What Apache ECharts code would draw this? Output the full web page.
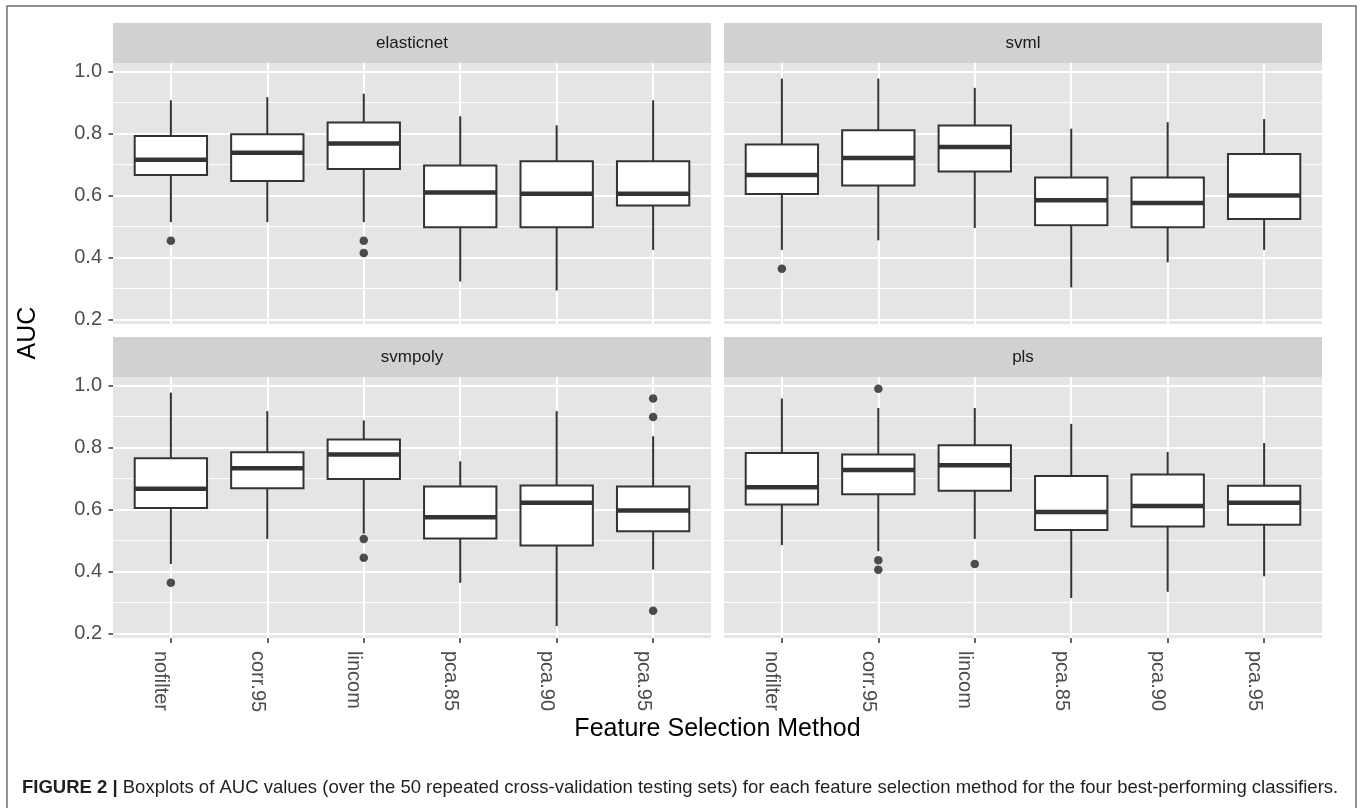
<!DOCTYPE html>
<html>
<head>
<meta charset="utf-8">
<title>AUC boxplots by feature selection method</title>
<script src="https://cdn.jsdelivr.net/npm/echarts@6/dist/echarts.min.js"></script>
<style>
  html, body { margin: 0; padding: 0; background: #ffffff; }
  #chart { width: 1363px; height: 808px; }
</style>
</head>
<body>
<div id="chart"></div>
<script>
// Feature selection methods (x categories) and classifiers (facets)
const methods = ['nofilter', 'corr.95', 'lincom', 'pca.85', 'pca.90', 'pca.95'];
const classifiers = ['elasticnet', 'svml', 'svmpoly', 'pls'];
const yTicks = [0.2, 0.4, 0.6, 0.8, 1.0];

// Box statistics per method: [lower whisker, Q1, median, Q3, upper whisker]
const elasticnetBoxes = [
  [0.514, 0.666, 0.716, 0.792, 0.908],
  [0.514, 0.647, 0.738, 0.798, 0.918],
  [0.514, 0.686, 0.768, 0.836, 0.929],
  [0.322, 0.497, 0.610, 0.697, 0.856],
  [0.293, 0.497, 0.606, 0.711, 0.827],
  [0.424, 0.568, 0.606, 0.711, 0.908]
];
const svmlBoxes = [
  [0.424, 0.605, 0.666, 0.765, 0.978],
  [0.455, 0.632, 0.721, 0.811, 0.978],
  [0.495, 0.678, 0.757, 0.826, 0.948],
  [0.303, 0.504, 0.585, 0.658, 0.816],
  [0.384, 0.497, 0.576, 0.658, 0.837],
  [0.424, 0.524, 0.600, 0.734, 0.847]
];
const svmpolyBoxes = [
  [0.424, 0.605, 0.667, 0.766, 0.978],
  [0.505, 0.669, 0.733, 0.785, 0.918],
  [0.522, 0.699, 0.778, 0.826, 0.888],
  [0.363, 0.506, 0.575, 0.674, 0.756],
  [0.223, 0.484, 0.622, 0.678, 0.918],
  [0.406, 0.530, 0.597, 0.674, 0.837]
];
const plsBoxes = [
  [0.485, 0.616, 0.672, 0.783, 0.959],
  [0.465, 0.649, 0.728, 0.778, 0.928],
  [0.505, 0.661, 0.743, 0.808, 0.928],
  [0.314, 0.534, 0.592, 0.708, 0.877],
  [0.334, 0.545, 0.611, 0.713, 0.786],
  [0.384, 0.551, 0.622, 0.677, 0.815]
];

// Outlying AUC values: [method index, AUC]
const elasticnetOutliers = [[0, 0.454], [2, 0.454], [2, 0.414]];
const svmlOutliers = [[0, 0.363]];
const svmpolyOutliers = [[0, 0.363], [2, 0.505], [2, 0.444], [5, 0.959], [5, 0.899], [5, 0.273]];
const plsOutliers = [[1, 0.990], [1, 0.436], [1, 0.405], [2, 0.424]];

const boxSets = [elasticnetBoxes, svmlBoxes, svmpolyBoxes, plsBoxes];
const outlierSets = [elasticnetOutliers, svmlOutliers, svmpolyOutliers, plsOutliers];

// Shared y scale: data range expanded by 5% on each side
const allValues = [];
boxSets.forEach(s => s.forEach(b => allValues.push(...b)));
outlierSets.forEach(s => s.forEach(o => allValues.push(o[1])));
const dataMin = Math.min(...allValues);
const dataMax = Math.max(...allValues);
const pad = (dataMax - dataMin) * 0.05;
const yMin = dataMin - pad;
const yMax = dataMax + pad;

// Facet layout (2 x 2)
const FONT = '"Liberation Sans", Arial, Helvetica, sans-serif';
const panelW = 598, panelH = 261, stripH = 40;
const panelLefts = [113, 724];
const panelTops = [63, 377];
const PANEL_BG = '#E5E5E5';
const STRIP_BG = '#D1D1D1';
const INK = '#333333';
const TICK_TEXT = '#4D4D4D';

// Caption face: a narrow sans if one is installed, otherwise the regular one
const captionText = 'Boxplots of AUC values (over the 50 repeated cross-validation testing sets) for each feature selection method for the four best-performing classifiers.';
const measureCtx = document.createElement('canvas').getContext('2d');
function textWidth(font) { measureCtx.font = font; return measureCtx.measureText(captionText).width; }
const narrowOk = Math.abs(textWidth('20px "Liberation Sans Narrow", monospace') - textWidth('20px monospace')) > 1;
const CAPTION_FONT = narrowOk ? '"Liberation Sans Narrow", "Liberation Sans", Arial, sans-serif' : FONT;
const CAPTION_SIZE = narrowOk ? 22 : 18.5;

const grids = [], xAxes = [], yAxes = [], series = [], graphics = [];

function renderBox(params, api) {
  const x = api.value(0);
  const lo = api.coord([x, api.value(1)]);
  const q1 = api.coord([x, api.value(2)]);
  const md = api.coord([x, api.value(3)]);
  const q3 = api.coord([x, api.value(4)]);
  const hi = api.coord([x, api.value(5)]);
  const half = api.size([1, 0])[0] * 0.375;
  const cx = md[0];
  const stroke = { stroke: INK, lineWidth: 2 };
  return {
    type: 'group',
    children: [
      { type: 'line', shape: { x1: cx, y1: hi[1], x2: cx, y2: q3[1] }, style: stroke },
      { type: 'line', shape: { x1: cx, y1: q1[1], x2: cx, y2: lo[1] }, style: stroke },
      { type: 'rect', shape: { x: cx - half, y: q3[1], width: half * 2, height: q1[1] - q3[1] },
        style: { fill: '#ffffff', stroke: INK, lineWidth: 2 } },
      { type: 'line', shape: { x1: cx - half, y1: md[1], x2: cx + half, y2: md[1] },
        style: { stroke: INK, lineWidth: 4.5 } }
    ]
  };
}

classifiers.forEach((name, i) => {
  const col = i % 2, row = Math.floor(i / 2);
  const left = panelLefts[col], top = panelTops[row];
  const isLeft = col === 0, isBottom = row === 1;
  const pxPerUnit = panelH / (yMax - yMin);

  // Panel background
  const gBg = grids.length;
  grids.push({ left: left, top: top, width: panelW, height: panelH, show: true,
    backgroundColor: PANEL_BG, borderWidth: 0 });
  xAxes.push({ gridIndex: gBg, type: 'value', show: false });
  yAxes.push({ gridIndex: gBg, type: 'value', show: false });

  // Horizontal grid lines and y axis (spanning the tick range)
  const gH = grids.length;
  const hTop = top + (yMax - yTicks[yTicks.length - 1]) * pxPerUnit;
  const hH = (yTicks[yTicks.length - 1] - yTicks[0]) * pxPerUnit;
  grids.push({ left: left, top: hTop, width: panelW, height: hH, show: false });
  xAxes.push({ gridIndex: gH, type: 'value', show: false });
  yAxes.push({
    gridIndex: gH, type: 'value', min: yTicks[0], max: yTicks[yTicks.length - 1], interval: 0.2,
    axisLine: { show: false },
    axisTick: { show: isLeft, length: 4.5, lineStyle: { color: INK, width: 1.5 } },
    axisLabel: { show: isLeft, formatter: v => v.toFixed(1), fontSize: 20, color: TICK_TEXT,
      fontFamily: FONT, margin: 11 },
    splitLine: { show: true, lineStyle: { color: '#ffffff', width: 2 } },
    minorTick: { show: false, splitNumber: 2 },
    minorSplitLine: { show: true, lineStyle: { color: '#ffffff', width: 1 } }
  });

  // Data grid: category centres placed as in a discrete scale padded by 0.6
  const gV = grids.length;
  const vLeft = left + panelW * 0.6 / 6.2;
  const vW = panelW * 5 / 6.2;
  grids.push({ left: vLeft, top: top, width: vW, height: panelH, show: false });
  xAxes.push({
    gridIndex: gV, type: 'category', data: methods, boundaryGap: false,
    axisLine: { show: false },
    axisTick: { show: isBottom, length: 5, interval: 0, lineStyle: { color: INK, width: 1.5 } },
    axisLabel: { show: isBottom, interval: 0, rotate: -90, align: 'left', verticalAlign: 'top',
      fontSize: 20, color: TICK_TEXT, fontFamily: FONT, margin: 13 },
    splitLine: { show: true, interval: 0, lineStyle: { color: '#ffffff', width: 2 } }
  });
  yAxes.push({ gridIndex: gV, type: 'value', min: yMin, max: yMax, show: false });

  series.push({
    type: 'custom', name: name, xAxisIndex: gV, yAxisIndex: gV,
    renderItem: renderBox,
    data: boxSets[i].map((b, k) => [k].concat(b)),
    z: 3
  });
  series.push({
    type: 'scatter', name: name + ' outliers', xAxisIndex: gV, yAxisIndex: gV,
    data: outlierSets[i], symbol: 'circle', symbolSize: 8.5,
    itemStyle: { color: '#222222' }, z: 4
  });

  // Facet strip
  graphics.push({ type: 'rect', shape: { x: left, y: top - stripH, width: panelW, height: stripH },
    style: { fill: STRIP_BG }, silent: true });
  graphics.push({ type: 'text', x: left + panelW / 2, y: top - stripH / 2,
    style: { text: name, fontSize: 17, fontFamily: FONT, fill: '#1A1A1A',
      align: 'center', verticalAlign: 'middle' }, silent: true });
});

// Axis titles
graphics.push({ type: 'text', x: 28, y: 333, rotation: Math.PI / 2,
  style: { text: 'AUC', fontSize: 25, fontFamily: FONT, fill: '#000000',
    align: 'center', verticalAlign: 'middle' } });
graphics.push({ type: 'text', x: (panelLefts[0] + panelLefts[1] + panelW) / 2, y: 729,
  style: { text: 'Feature Selection Method', fontSize: 25, fontFamily: FONT, fill: '#000000',
    align: 'center', verticalAlign: 'middle' } });

// Caption and frame
graphics.push({ type: 'text', x: 22, y: 788,
  style: {
    text: '{b|FIGURE 2 |} ' + captionText,
    fontSize: CAPTION_SIZE, fontFamily: CAPTION_FONT, fill: '#231F20', verticalAlign: 'middle',
    rich: { b: { fontWeight: 'bold', fontSize: CAPTION_SIZE, fontFamily: CAPTION_FONT, fill: '#231F20' } }
  } });
graphics.push({ type: 'rect', shape: { x: 7, y: 6, width: 1349, height: 900 },
  style: { fill: null, stroke: '#6E6E6E', lineWidth: 1.5 }, silent: true, z: 10 });

const chart = echarts.init(document.getElementById('chart'), null, { renderer: 'canvas' });
chart.setOption({
  animation: false,
  backgroundColor: '#ffffff',
  grid: grids,
  xAxis: xAxes,
  yAxis: yAxes,
  series: series,
  graphic: { elements: graphics }
});
</script>
</body>
</html>
